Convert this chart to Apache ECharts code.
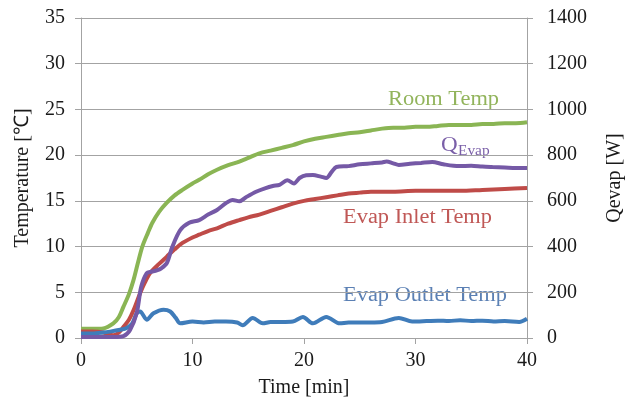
<!DOCTYPE html>
<html>
<head>
<meta charset="utf-8">
<script src="https://cdn.jsdelivr.net/npm/echarts@6/dist/echarts.min.js"></script>
<style>
  html, body { margin: 0; padding: 0; background: #fff; }
  #myChart { width: 633px; height: 406px; }
</style>
</head>
<body>
<div id="myChart"></div>
<script>
var myChart = echarts.init(document.getElementById('myChart'));

// time in min, temperatures in degC, Qevap in W
var roomTime = [0, 1, 2, 2.9, 3.4, 3.8, 4.3, 4.7, 5.1, 5.5, 6, 6.4, 7, 7.7, 8.4, 9.1, 10, 10.6, 11.4, 12.2, 13.2, 14.2, 15, 16, 17, 18, 19, 20, 21, 22, 23, 24, 25, 26, 27, 28, 29, 30, 31, 32, 33, 34, 35, 36, 37, 38, 39, 40];
var roomTemp = [1.0, 1.0, 1.05, 1.6, 2.3, 3.4, 4.8, 6.3, 8.2, 10, 11.5, 12.6, 13.8, 14.8, 15.6, 16.2, 16.9, 17.3, 17.9, 18.4, 18.9, 19.3, 19.7, 20.2, 20.5, 20.8, 21.1, 21.5, 21.8, 22.0, 22.2, 22.4, 22.5, 22.7, 22.9, 23.0, 23.0, 23.1, 23.1, 23.2, 23.3, 23.3, 23.3, 23.4, 23.4, 23.5, 23.5, 23.6];

var inletTime = [0, 1, 2, 2.9, 3.4, 3.8, 4.3, 4.7, 5.3, 5.7, 6.2, 7, 7.7, 8.4, 9.1, 10, 10.6, 11.4, 12.2, 13.2, 14.2, 15, 16, 17, 18, 19, 20, 21, 22, 23, 24, 25, 26, 28, 30, 32, 34, 36, 38, 40];
var inletTemp = [0.7, 0.7, 0.6, 0.3, 0.6, 1.2, 2.0, 3.0, 4.9, 6.0, 7.1, 8.1, 8.9, 9.7, 10.4, 11.0, 11.3, 11.7, 12.0, 12.5, 12.9, 13.2, 13.5, 13.9, 14.3, 14.7, 15.0, 15.2, 15.4, 15.6, 15.8, 15.9, 16.0, 16.0, 16.1, 16.1, 16.1, 16.2, 16.3, 16.4];

var outletTime = [0, 1, 2, 2.6, 3.5, 4.1, 4.6, 5, 5.3, 5.9, 6.5, 7.4, 8, 8.5, 8.9, 10, 11, 12, 13, 14, 14.5, 15.4, 16.3, 17, 18, 19, 19.9, 20.8, 22, 23.2, 24, 25, 26, 27, 28.5, 29.7, 31, 32, 33, 34, 35, 36, 37, 38, 39.3, 40];
var outletTemp = [0.5, 0.5, 0.6, 0.7, 0.9, 1.1, 1.6, 2.7, 2.9, 2.0, 2.7, 3.1, 2.9, 2.2, 1.6, 1.8, 1.7, 1.8, 1.8, 1.7, 1.4, 2.2, 1.6, 1.75, 1.75, 1.8, 2.3, 1.6, 2.3, 1.6, 1.7, 1.7, 1.7, 1.75, 2.2, 1.8, 1.85, 1.9, 1.85, 1.95, 1.85, 1.9, 1.8, 1.85, 1.75, 2.1];

var qTime = [0, 1, 2, 3, 3.8, 4.4, 5, 5.4, 5.9, 6.3, 6.8, 7.2, 7.7, 8.2, 8.9, 9.7, 10.6, 11.4, 12.2, 13, 13.6, 14.2, 14.8, 15.7, 16.5, 17.2, 17.8, 18.5, 19.1, 19.6, 20.2, 20.8, 21.5, 22, 22.5, 22.9, 24, 25, 26, 27, 27.4, 28, 28.5, 29.5, 30.5, 31.5, 32.5, 33.9, 35, 36, 36.9, 38, 39, 40];
var qEvap = [4, 4, 4, 4, 8, 35, 110, 224, 284, 290, 296, 305, 328, 400, 472, 504, 516, 540, 560, 590, 604, 598, 616, 640, 655, 665, 670, 690, 676, 700, 712, 713, 706, 700, 728, 748, 752, 760, 764, 768, 772, 764, 757, 762, 766, 770, 760, 752, 754, 750, 748, 746, 744, 744];

var tempTicks = [0, 35, 5];
var powerTicks = [0, 1400, 200];
var timeTicks = [0, 40, 10];

function pairs(xs, ys) {
    var res = [];
    for (var i = 0; i < xs.length; i++) {
        res.push([xs[i], ys[i]]);
    }
    return res;
}

var serif = '"Liberation Serif", "Times New Roman", serif';
var gridColor = '#a3a3a3';

function lineSeries(name, data, color, yIndex) {
    return {
        name: name,
        type: 'line',
        yAxisIndex: yIndex,
        data: data,
        showSymbol: false,
        smooth: 0.3,
        lineStyle: { color: color, width: 4 },
        itemStyle: { color: color }
    };
}

function axisCommon() {
    return {
        axisLine: { show: true, lineStyle: { color: gridColor, width: 1 } },
        axisTick: { show: true, length: 6, lineStyle: { color: gridColor } },
        axisLabel: {
            fontFamily: serif, fontSize: 20, color: '#1a1a1a',
            formatter: function (v) { return String(v); }
        },
        nameTextStyle: { fontFamily: serif, fontSize: 20, color: '#1a1a1a' }
    };
}

var xAx = axisCommon();
xAx.type = 'value';
xAx.min = timeTicks[0];
xAx.max = timeTicks[1];
xAx.interval = timeTicks[2];
xAx.splitLine = { show: false };
xAx.axisLabel.margin = 13;
xAx.name = 'Time [min]';
xAx.nameLocation = 'middle';
xAx.nameGap = 40;

var yLeft = axisCommon();
yLeft.type = 'value';
yLeft.min = tempTicks[0];
yLeft.max = tempTicks[1];
yLeft.interval = tempTicks[2];
yLeft.splitLine = { show: true, lineStyle: { color: gridColor, width: 1 } };
yLeft.axisLabel.margin = 16;
yLeft.name = 'Temperature [℃]';
yLeft.nameLocation = 'middle';
yLeft.nameRotate = 90;
yLeft.nameGap = 48;

var yRight = axisCommon();
yRight.type = 'value';
yRight.position = 'right';
yRight.min = powerTicks[0];
yRight.max = powerTicks[1];
yRight.interval = powerTicks[2];
yRight.splitLine = { show: false };
yRight.axisLabel.margin = 20;
yRight.name = 'Qevap [W]';
yRight.nameLocation = 'middle';
yRight.nameRotate = 90;
yRight.nameGap = 78;

option = {
    animation: false,
    backgroundColor: '#ffffff',
    grid: { left: 81, right: 105, top: 18, bottom: 68 },
    xAxis: xAx,
    yAxis: [yLeft, yRight],
    series: [
        lineSeries('Room Temp', pairs(roomTime, roomTemp), '#8ab554', 0),
        lineSeries('Evap Inlet Temp', pairs(inletTime, inletTemp), '#bf4b48', 0),
        lineSeries('Evap Outlet Temp', pairs(outletTime, outletTemp), '#3f7cba', 0),
        lineSeries('QEvap', pairs(qTime, qEvap), '#7559a6', 1)
    ],
    graphic: [
        { type: 'text', x: 388, y: 90, scaleX: 1.12, style: { text: 'Room Temp', font: '20px ' + serif, fill: '#92b45c' } },
        { type: 'text', x: 441, y: 135, scaleX: 1.1, style: { text: 'Q', font: '21px ' + serif, fill: '#7a5fa8' } },
        { type: 'text', x: 458, y: 144, scaleX: 1.1, style: { text: 'Evap', font: '14px ' + serif, fill: '#7a5fa8' } },
        { type: 'text', x: 343, y: 208, scaleX: 1.12, style: { text: 'Evap Inlet Temp', font: '20px ' + serif, fill: '#c05856' } },
        { type: 'text', x: 343, y: 286, scaleX: 1.12, style: { text: 'Evap Outlet Temp', font: '20px ' + serif, fill: '#5b80b4' } }
    ]
};

myChart.setOption(option);
</script>
</body>
</html>
